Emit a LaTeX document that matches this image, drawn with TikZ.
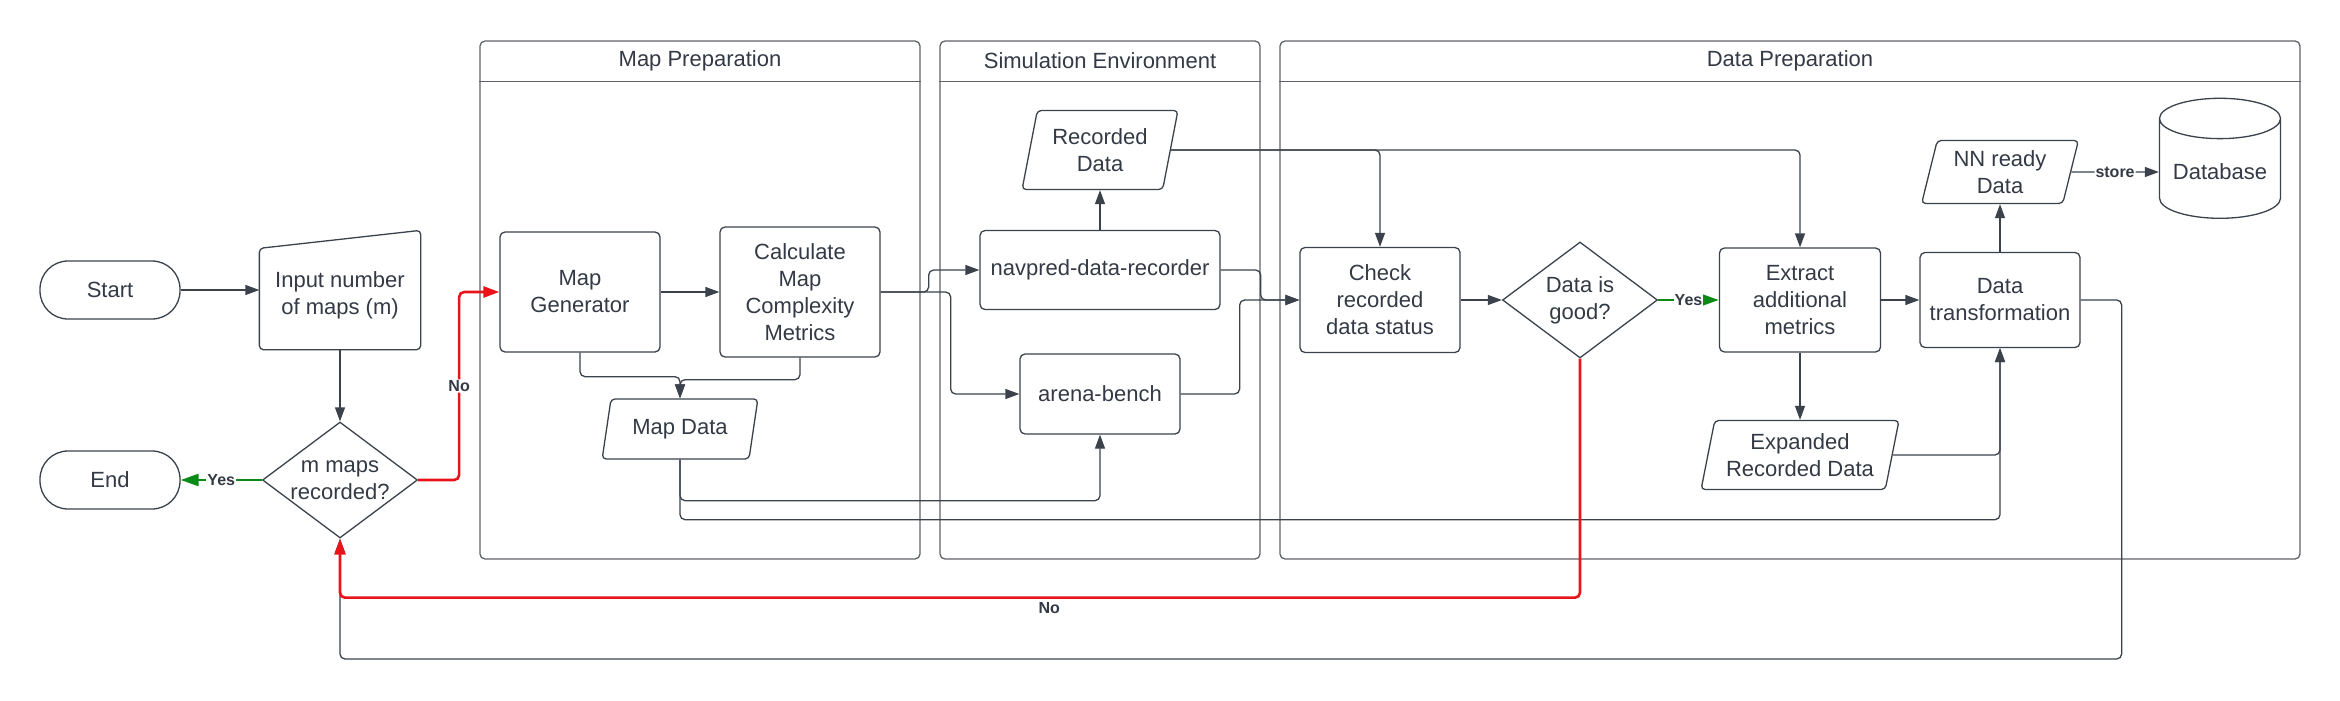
\documentclass[tikz,border=0pt]{standalone}
\usepackage{fontspec}
\setmainfont{Liberation Sans}
\usepackage{xcolor}
\usepackage{tikz}
\usetikzlibrary{shapes.geometric, arrows.meta}
\definecolor{lnc}{HTML}{3B424C}
\definecolor{lanec}{HTML}{5F6369}
\definecolor{txc}{HTML}{333A45}
\definecolor{noc}{HTML}{E8141A}
\definecolor{yesc}{HTML}{0B8A17}
\tikzstyle{base} = [font=\fontsize{22pt}{27pt}\selectfont, text=txc, align=center, draw=lnc, line width=1.3pt]
\tikzstyle{terminal} = [base, rectangle, rounded corners=28pt, minimum width=140pt, minimum height=58pt]
\tikzstyle{process} = [base, rectangle, rounded corners=5pt, minimum width=160pt, minimum height=120pt]
\tikzstyle{manual} = [base, draw=none, rectangle, minimum width=160pt, minimum height=108pt]
\tikzstyle{decision} = [base, diamond, aspect=1.33, inner sep=-12pt, minimum width=155pt, minimum height=116pt]
\tikzstyle{iodata} = [base, trapezium, trapezium left angle=76, trapezium right angle=104, trapezium stretches=true, rounded corners=4pt, minimum width=156pt, minimum height=60pt]
\tikzstyle{database} = [base, cylinder, shape border rotate=90, aspect=0.4, minimum width=121pt, minimum height=120pt]
\tikzstyle{lane} = [rectangle, rounded corners=5pt, draw=lanec, line width=1.3pt]
\tikzstyle{laneline} = [draw=lanec, line width=1.3pt]
\tikzstyle{lanetitle} = [font=\fontsize{22pt}{27pt}\selectfont, text=txc]
\tikzstyle{arrow} = [line width=1.3pt, draw=lnc, rounded corners=5pt, -{Triangle[length=14pt,width=10pt]}]
\tikzstyle{yesarrow} = [line width=2.6pt, draw=yesc, -{Triangle[length=18pt,width=12pt]}]
\tikzstyle{noarrow} = [line width=2.6pt, draw=noc, rounded corners=5pt, -{Triangle[length=16pt,width=11pt]}]
\tikzstyle{lbl} = [font=\fontsize{16pt}{18pt}\selectfont\bfseries, text=txc, fill=white, inner sep=1pt]
\begin{document}
\begin{tikzpicture}[x=1pt, y=-1pt, node distance=0pt]
  \useasboundingbox (0,0) rectangle (2340,701);
  \node (mplane)[lane, minimum width=440pt, minimum height=518pt] at (700,300) {};
  \draw[laneline] ([yshift=-41pt]mplane.north west) -- ([yshift=-41pt]mplane.north east);
  \node (mptitle)[lanetitle] at ([yshift=-20pt]mplane.north) {Map Preparation};
  \node (simlane)[lane, minimum width=320pt, minimum height=518pt] at (1100,300) {};
  \draw[laneline] ([yshift=-41pt]simlane.north west) -- ([yshift=-41pt]simlane.north east);
  \node (simtitle)[lanetitle] at ([yshift=-20pt]simlane.north) {Simulation Environment};
  \node (dplane)[lane, minimum width=1020pt, minimum height=518pt] at (1790,300) {};
  \draw[laneline] ([yshift=-41pt]dplane.north west) -- ([yshift=-41pt]dplane.north east);
  \node (dptitle)[lanetitle] at ([yshift=-20pt]dplane.north) {Data Preparation};

  \node (start)[terminal] at (110,290) {Start};
  \node (inp)[manual, right of=start, xshift=230pt, yshift=-5pt]{Input number\\of maps (m)};
  \draw[base, rounded corners=4pt] (inp.south west) -- ([yshift=-8pt]inp.north west) -- ([yshift=10pt]inp.north east) -- (inp.south east) -- cycle;
  \node (endn)[terminal, below of=start, yshift=-190pt]{End};
  \node (mm)[decision, right of=endn, xshift=230pt]{m maps\\recorded?};
  \node (gen)[process, right of=inp, xshift=240pt, yshift=3pt]{Map\\Generator};
  \node (calc)[process, right of=gen, xshift=220pt, minimum height=130pt]{Calculate\\Map\\Complexity\\Metrics};
  \node (mapdata)[iodata, below of=gen, xshift=100pt, yshift=-137pt]{Map Data};
  \node (navpred)[process, right of=calc, xshift=300pt, yshift=22pt, minimum width=240pt, minimum height=79pt]{navpred-data-recorder};
  \node (rec)[iodata, above of=navpred, yshift=120pt, minimum height=79pt]{Recorded\\Data};
  \node (bench)[process, below of=navpred, yshift=-124pt, minimum height=80pt]{arena-bench};
  \node (check)[process, right of=navpred, xshift=280pt, yshift=-30pt, minimum height=105pt]{Check\\recorded\\data status};
  \node (good)[decision, right of=check, xshift=200pt]{Data is\\good?};
  \node (extract)[process, right of=good, xshift=220pt, minimum width=161pt, minimum height=104pt]{Extract\\additional\\metrics};
  \node (trans)[process, right of=extract, xshift=200pt, minimum height=95pt]{Data\\transformation};
  \node (nn)[iodata, above of=trans, yshift=128pt, minimum width=157pt, minimum height=63pt]{NN ready\\Data};
  \node (db)[database, right of=nn, xshift=220pt]{Database};
  \node (expanded)[iodata, below of=extract, yshift=-155pt, minimum width=198pt, minimum height=69pt]{Expanded\\Recorded Data};

  \draw[arrow](start.east) -- (start.east -| inp.west);
  \draw[arrow](inp) -- (mm);
  \draw[yesarrow](mm) -- node[lbl]{Yes} (endn);
  \draw[noarrow](mm.east) -- ++(41,0) |- node[lbl, pos=0.25]{No} (gen.west);
  \draw[arrow](gen) -- (calc);
  \draw[arrow](gen.south) -- ++(0,24) -| (mapdata.north);
  \draw[arrow](calc.south) -- ++(0,22) -| (mapdata.north);
  \draw[arrow](mapdata.south) -- ++(0,41) -| (bench.south);
  \draw[arrow](mapdata.south) -- ++(0,60) -| (trans.south);
  \draw[arrow](calc.east) -- ++(48,0) |- (navpred.west);
  \draw[arrow](calc.east) -- ++(70,0) |- (bench.west);
  \draw[arrow](navpred) -- (rec);
  \draw[arrow](navpred.east) -- ++(40,0) |- (check.west);
  \draw[arrow](bench.east) -- ++(59,0) |- (check.west);
  \draw[arrow](rec.east) -| (check.north);
  \draw[arrow](rec.east) -| (extract.north);
  \draw[arrow](check) -- (good);
  \draw[yesarrow](good) -- node[lbl]{Yes} (extract);
  \draw[arrow](trans.east) -- ++(41,0) -- ++(0,359) -| (mm.south);
  \draw[noarrow](good.south) -- ++(0,239) -| node[lbl, pos=0.214, below=3pt]{No} (mm.south);
  \draw[arrow](extract) -- (trans);
  \draw[arrow](extract) -- (expanded);
  \draw[arrow](expanded.east) -| (trans.south);
  \draw[arrow](trans) -- (nn);
  \draw[arrow](nn) -- node[lbl]{store} (db);
\end{tikzpicture}
\end{document}
